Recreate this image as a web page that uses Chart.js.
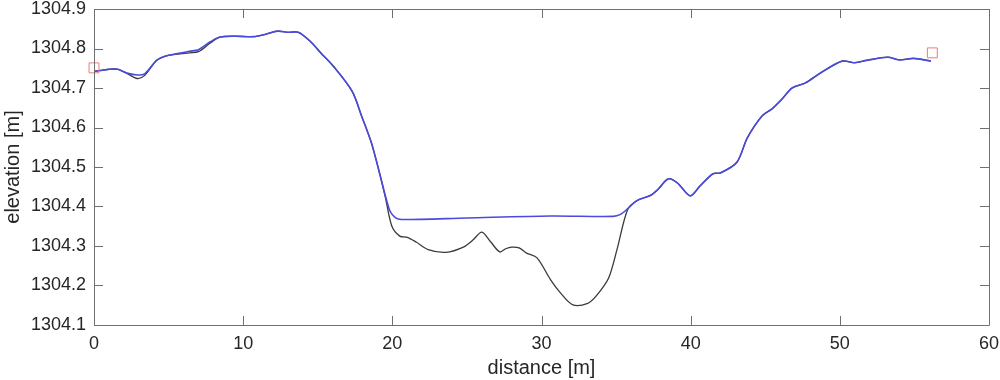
<!DOCTYPE html>
<html>
<head>
<meta charset="utf-8">
<script src="https://cdn.jsdelivr.net/npm/chart.js@4/dist/chart.umd.min.js"></script>
<style>
html,body{margin:0;padding:0;background:#fff;}
#wrap{width:1000px;height:380px;position:relative;}
</style>
</head>
<body>
<div id="wrap"><canvas id="c" width="1000" height="380"></canvas></div>
<script>
// ---- data ----
const bedDist = [0, 1.5, 2.2, 2.9, 3.4, 4.2, 4.8, 5.6, 6.4, 7.0, 7.8, 8.45, 9.5, 10.7, 11.5, 12.3, 13.0, 13.7, 14.5, 15.2, 16.05, 17.3, 17.95, 18.6, 19.2, 19.55, 19.97, 20.5, 21.0, 21.6, 22.4, 23.6, 24.8, 25.4, 26.0, 26.6, 27.2, 27.6, 28.0, 28.5, 29.0, 29.7, 30.6, 31.3, 32.1, 33.1, 33.7, 34.5, 35.06, 35.77, 36.4, 37.3, 37.8, 38.5, 39.1, 39.97, 40.6, 41.5, 42.0, 43.1, 43.8, 44.8, 45.45, 46.1, 46.8, 47.7, 48.7, 50.15, 51.0, 51.8, 53.2, 54.0, 54.95, 56.1];
const bedElev = [1304.742, 1304.748, 1304.737, 1304.724, 1304.732, 1304.770, 1304.781, 1304.786, 1304.789, 1304.792, 1304.814, 1304.829, 1304.831, 1304.830, 1304.836, 1304.844, 1304.841, 1304.841, 1304.818, 1304.789, 1304.755, 1304.692, 1304.628, 1304.561, 1304.476, 1304.420, 1304.350, 1304.325, 1304.322, 1304.310, 1304.291, 1304.284, 1304.298, 1304.315, 1304.335, 1304.310, 1304.285, 1304.293, 1304.297, 1304.295, 1304.282, 1304.270, 1304.215, 1304.180, 1304.151, 1304.155, 1304.175, 1304.219, 1304.291, 1304.392, 1304.415, 1304.428, 1304.443, 1304.470, 1304.460, 1304.427, 1304.451, 1304.483, 1304.485, 1304.512, 1304.574, 1304.630, 1304.647, 1304.671, 1304.700, 1304.713, 1304.738, 1304.768, 1304.764, 1304.770, 1304.778, 1304.771, 1304.775, 1304.768];
const surfDist = [0, 1.5, 2.2, 2.9, 3.4, 4.2, 4.8, 5.6, 6.4, 7.0, 7.8, 8.45, 9.5, 10.7, 11.5, 12.3, 13.0, 13.7, 14.5, 15.2, 16.05, 17.3, 17.95, 18.6, 19.2, 19.55, 19.85, 20.2, 20.6, 25.0, 30.6, 34.8, 35.3, 35.77, 36.4, 37.3, 37.8, 38.5, 39.1, 39.97, 40.6, 41.5, 42.0, 43.1, 43.8, 44.8, 45.45, 46.1, 46.8, 47.7, 48.7, 50.15, 51.0, 51.8, 53.2, 54.0, 54.95, 56.1];
const surfElev = [1304.742, 1304.748, 1304.738, 1304.733, 1304.736, 1304.770, 1304.781, 1304.787, 1304.793, 1304.797, 1304.817, 1304.829, 1304.831, 1304.830, 1304.836, 1304.844, 1304.841, 1304.841, 1304.818, 1304.789, 1304.755, 1304.692, 1304.628, 1304.561, 1304.476, 1304.425, 1304.388, 1304.372, 1304.367, 1304.371, 1304.376, 1304.375, 1304.380, 1304.394, 1304.415, 1304.428, 1304.443, 1304.470, 1304.460, 1304.427, 1304.451, 1304.483, 1304.485, 1304.512, 1304.574, 1304.630, 1304.647, 1304.671, 1304.700, 1304.713, 1304.738, 1304.768, 1304.764, 1304.770, 1304.778, 1304.771, 1304.775, 1304.768];
const markerDist = [0, 56.2];
const markerElev = [1304.751, 1304.789];
const xTicks = [0, 10, 20, 30, 40, 50, 60];
const yTicks = [1304.1, 1304.2, 1304.3, 1304.4, 1304.5, 1304.6, 1304.7, 1304.8, 1304.9];

const pts = (xs, ys) => xs.map((x, i) => ({x: x, y: ys[i]}));
const FONT = "'Liberation Sans', Arial, Helvetica, sans-serif";
const TXT = '#262626';

const boxTicks = {
  id: 'boxTicks',
  afterDraw(chart) {
    const {ctx, chartArea: a, scales: {x, y}} = chart;
    const L = 9;
    ctx.save();
    ctx.strokeStyle = '#707070';
    ctx.lineWidth = 1;
    ctx.beginPath();
    ctx.rect(Math.round(a.left) + 0.5, Math.round(a.top) + 0.5, Math.round(a.right - a.left), Math.round(a.bottom - a.top));
    xTicks.forEach(v => {
      const px = Math.round(x.getPixelForValue(v)) + 0.5;
      ctx.moveTo(px, a.bottom); ctx.lineTo(px, a.bottom - L);
      ctx.moveTo(px, a.top); ctx.lineTo(px, a.top + L);
    });
    yTicks.forEach(v => {
      const py = Math.round(y.getPixelForValue(v)) + 0.5;
      ctx.moveTo(a.left, py); ctx.lineTo(a.left + L, py);
      ctx.moveTo(a.right, py); ctx.lineTo(a.right - L, py);
    });
    ctx.stroke();
    ctx.restore();
  }
};

const noPad = s => { s.paddingLeft = 0; s.paddingRight = 0; s.paddingTop = 0; s.paddingBottom = 0; };

new Chart(document.getElementById('c'), {
  type: 'scatter',
  data: {
    datasets: [
      {
        label: 'bed',
        data: pts(bedDist, bedElev),
        showLine: true,
        borderColor: '#3a3a3a',
        borderWidth: 1.3,
        pointRadius: 0,
        tension: 0.3,
        order: 3
      },
      {
        label: 'surface',
        data: pts(surfDist, surfElev),
        showLine: true,
        borderColor: '#4a4ade',
        borderWidth: 1.6,
        pointRadius: 0,
        tension: 0.3,
        order: 2
      },
      {
        label: 'markers',
        data: pts(markerDist, markerElev),
        showLine: false,
        pointStyle: 'rect',
        pointRadius: 7,
        pointBorderColor: '#f07a7a',
        pointBackgroundColor: 'rgba(0,0,0,0)',
        pointBorderWidth: 1,
        clip: false,
        order: 1
      }
    ]
  },
  options: {
    responsive: false,
    animation: false,
    events: [],
    layout: {padding: {top: 9, right: 11, left: 0, bottom: 0}},
    plugins: {legend: {display: false}, tooltip: {enabled: false}},
    scales: {
      x: {
        type: 'linear',
        min: 0, max: 60,
        afterBuildTicks: s => { s.ticks = xTicks.map(v => ({value: v})); },
        afterFit: s => { s.height = 55; noPad(s); },
        grid: {display: false, drawTicks: false},
        border: {display: false},
        ticks: {color: TXT, font: {family: FONT, size: 18}, padding: 8, maxRotation: 0, callback: v => String(v)},
        title: {display: true, text: 'distance [m]', color: TXT, font: {family: FONT, size: 20}, padding: {top: 0, bottom: 0}}
      },
      y: {
        type: 'linear',
        min: 1304.1, max: 1304.9,
        afterBuildTicks: s => { s.ticks = yTicks.map(v => ({value: v})); },
        afterFit: s => { s.width = 94; noPad(s); },
        grid: {display: false, drawTicks: false},
        border: {display: false},
        ticks: {color: TXT, font: {family: FONT, size: 18}, padding: 8, callback: v => Number(v).toFixed(1)},
        title: {display: true, text: 'elevation [m]', color: TXT, font: {family: FONT, size: 20}, padding: {top: 1, bottom: 0}}
      }
    }
  },
  plugins: [boxTicks]
});
</script>
</body>
</html>
